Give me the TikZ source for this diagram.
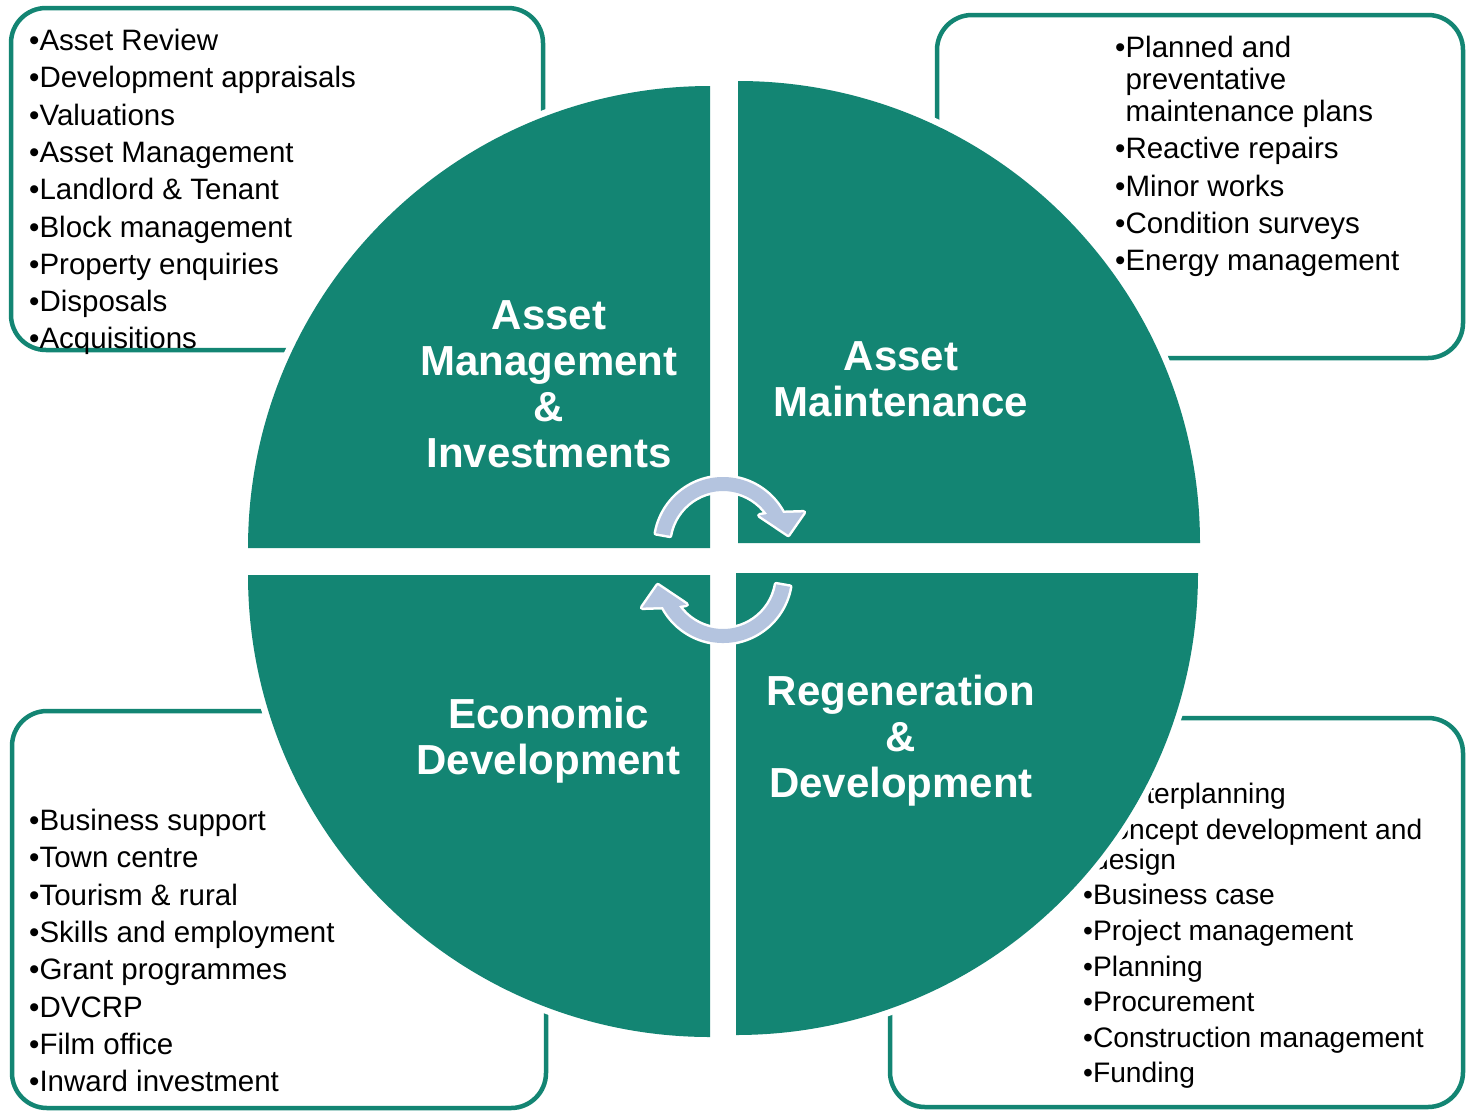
\documentclass[tikz,border=0pt]{standalone}
\usepackage{fontspec}
\setmainfont{Liberation Sans}
\definecolor{hubgreen}{HTML}{138573}
\definecolor{turnblue}{HTML}{B4C4DF}

\begin{document}
\begin{tikzpicture}[x=1pt, y=-1pt,
    listbox/.style={draw=hubgreen, line width=4.5, rounded corners=35},
    quarter/.style={fill=hubgreen, preaction={draw=white, line width=13}},
    title/.style={text=white, inner sep=0, anchor=north, align=center, font=\fontsize{42}{46}\selectfont\bfseries},
    items/.style={inner sep=0, anchor=north west, align=left, font=\fontsize{29.5}{37.3}\selectfont},
    turnarrow/.style={fill=turnblue, preaction={draw=white, line width=5, line join=round}}]
    \useasboundingbox (0,0) rectangle (1466,1112);

    \draw[listbox] (11,8) rectangle (543,350);
    \draw[listbox] (937,15) rectangle (1463,358);
    \draw[listbox] (12,711) rectangle (546,1108);
    \draw[listbox] (890,718) rectangle (1463,1107);

    \node[items] (amlist) at (29,29) {•Asset Review\\•Development appraisals\\•Valuations\\•Asset Management\\•Landlord \& Tenant\\•Block management\\•Property enquiries\\•Disposals\\•Acquisitions};
    \node[items, font=\fontsize{29.5}{32}\selectfont] (mtlist) at (1115,36) {•Planned and\\\phantom{•}preventative\\\phantom{•}maintenance plans\\[5.3pt]•Reactive repairs\\[5.3pt]•Minor works\\[5.3pt]•Condition surveys\\[5.3pt]•Energy management};
    \node[items] (edlist) at (29,809) {•Business support\\•Town centre\\•Tourism \& rural\\•Skills and employment\\•Grant programmes\\•DVCRP\\•Film office\\•Inward investment};
    \node[items, font=\fontsize{28.2}{30}\selectfont] (rdlist) at (1083,783) {•Masterplanning\\[5.6pt]•Concept development and\\\phantom{•}design\\[5.6pt]•Business case\\[5.6pt]•Project management\\[5.6pt]•Planning\\[5.6pt]•Procurement\\[5.6pt]•Construction management\\[5.6pt]•Funding};

    \path[quarter] (710,548) -- (248,548) arc[start angle=180, end angle=270, radius=462] -- cycle;
    \path[quarter] (738,543) -- (738,81) arc[start angle=270, end angle=360, radius=462] -- cycle;
    \path[quarter] (710,575) -- (710,1037) arc[start angle=90, end angle=180, radius=462] -- cycle;
    \path[quarter] (736,573) -- (1198,573) arc[start angle=0, end angle=90, radius=462] -- cycle;

    \node[title] (amtitle) at (549,300.5) {Asset\\Management\\\&\\Investments};
    \node[title] (mttitle) at (901,341.5) {Asset\\Maintenance};
    \node[title] (edtitle) at (548.5,698) {Economic\\Development};
    \node[title] (rdtitle) at (901,675) {Regeneration\\\&\\Development};

    \begin{scope}[shift={(723,545)}]
        \path[turnarrow] (190:54) arc[start angle=190, end angle=325, radius=54] -- (321:47) -- (351:66) -- (338:87) -- (332:68) arc[start angle=332, end angle=190, radius=68] -- cycle;
    \end{scope}
    \begin{scope}[shift={(723,575)}, rotate=180]
        \path[turnarrow] (190:54) arc[start angle=190, end angle=325, radius=54] -- (321:47) -- (351:66) -- (338:87) -- (332:68) arc[start angle=332, end angle=190, radius=68] -- cycle;
    \end{scope}
\end{tikzpicture}
\end{document}
